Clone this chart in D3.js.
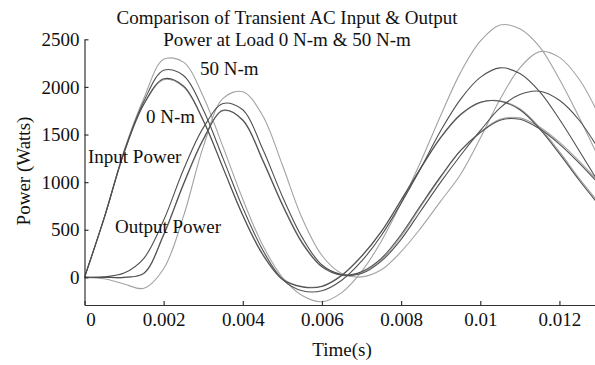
<!DOCTYPE html>
<html>
<head>
<meta charset="utf-8">
<script src="https://cdn.jsdelivr.net/npm/d3@7"></script>
<style>
  body { margin: 0; background: #fff; }
  svg { display: block; font-family: "Liberation Serif", "Times New Roman", serif; }
</style>
</head>
<body>
<svg id="chart" width="595" height="365"></svg>
<script>
// sample times (s)
const time = [0, 0.0005, 0.001, 0.0015, 0.002, 0.0025, 0.003, 0.0035, 0.004, 0.0045,
  0.005, 0.0055, 0.006, 0.0065, 0.007, 0.0075, 0.008, 0.0085, 0.009, 0.0095,
  0.01, 0.0105, 0.011, 0.0115, 0.012, 0.0125, 0.013];

// input power (W)
const inputA = [0, 630, 1330, 1880, 2290, 2260, 1900, 1370, 820, 340, 0, -190, -255, -160, 60, 380, 780, 1220, 1700, 2150, 2480, 2650, 2610, 2420, 2080, 1680, 1250];
const inputB = [0, 630, 1320, 1850, 2175, 2120, 1760, 1250, 730, 290, -20, -140, -140, -30, 170, 440, 780, 1150, 1540, 1870, 2100, 2200, 2140, 1950, 1660, 1330, 990];
const inputC = [0, 625, 1310, 1820, 2085, 2010, 1650, 1150, 650, 240, -20, -100, -95, 20, 220, 480, 810, 1150, 1470, 1710, 1840, 1850, 1760, 1560, 1300, 1020, 760];
const inputD = [0, 625, 1305, 1815, 2075, 2000, 1645, 1150, 655, 250, -10, -95, -90, 25, 225, 485, 815, 1150, 1465, 1705, 1835, 1855, 1770, 1575, 1320, 1040, 780];

// output power (W)
const outputA = [0, -15, -70, -115, 90, 640, 1370, 1880, 1950, 1700, 1180, 620, 230, 40, 5, 80, 270, 520, 800, 1080, 1460, 1870, 2200, 2370, 2310, 2080, 1700];
const outputB = [0, 5, 45, 200, 600, 1130, 1570, 1825, 1760, 1350, 850, 420, 130, 30, 40, 170, 400, 700, 1000, 1280, 1540, 1780, 1920, 1955, 1860, 1650, 1340];
const outputC = [0, 0, 0, 45, 450, 980, 1450, 1755, 1650, 1230, 760, 360, 110, 25, 60, 200, 450, 760, 1060, 1330, 1520, 1650, 1660, 1560, 1400, 1200, 980];
const outputD = [0, 0, 0, 40, 440, 970, 1440, 1750, 1655, 1240, 770, 370, 115, 20, 50, 185, 430, 745, 1050, 1330, 1525, 1660, 1675, 1580, 1420, 1220, 1000];

const xTicks = [0, 0.002, 0.004, 0.006, 0.008, 0.01, 0.012];
const yTicks = [0, 500, 1000, 1500, 2000, 2500];

const light = "#a3a3a3", dark = "#505050";
// light ones first so the dark ones sit on top
const series = [
  { values: inputD, color: light },
  { values: outputD, color: light },
  { values: inputA, color: light },
  { values: outputA, color: light },
  { values: inputB, color: dark },
  { values: inputC, color: dark },
  { values: outputB, color: dark },
  { values: outputC, color: dark }
];

const svg = d3.select("#chart");

const x = d3.scaleLinear().domain([0, 0.013]).range([84.5, 599]);
const y = d3.scaleLinear().domain([-290, 2500]).range([305, 39.3]);

svg.append("defs").append("clipPath").attr("id", "plot")
  .append("rect").attr("x", 84.5).attr("y", 0).attr("width", 520).attr("height", 305);

const line = d3.line()
  .x((d, i) => x(time[i]))
  .y(d => y(d))
  .curve(d3.curveCatmullRom.alpha(0.5));

svg.append("g")
  .attr("clip-path", "url(#plot)")
  .selectAll("path")
  .data(series)
  .join("path")
  .attr("fill", "none")
  .attr("stroke", d => d.color)
  .attr("stroke-width", 1.1)
  .attr("d", d => line(d.values));

// axes, ticks pointing inward
const xAxis = g => g
  .attr("transform", `translate(0,${y.range()[0]})`)
  .call(d3.axisBottom(x).tickValues(xTicks).tickSizeInner(-4).tickSizeOuter(0).tickPadding(8)
    .tickFormat(d => String(+d.toFixed(3))))
  .call(g => g.selectAll("text").filter(d => d === 0).attr("dx", 6));

const yAxis = g => g
  .attr("transform", `translate(${x(0)},0)`)
  .call(d3.axisLeft(y).tickValues(yTicks).tickSizeInner(-4).tickSizeOuter(0).tickPadding(5)
    .tickFormat(d => String(d)));

svg.append("g").call(xAxis);
svg.append("g").call(yAxis);

svg.selectAll("g[font-family]").attr("font-family", null).attr("font-size", null);
svg.selectAll(".tick text").attr("font-size", 19).attr("fill", "#111");
svg.selectAll(".domain, .tick line").attr("stroke", "#333").attr("stroke-width", 1.2);

// titles and labels
const txt = (s, px, py, anchor) => svg.append("text")
  .attr("x", px).attr("y", py)
  .attr("text-anchor", anchor || "start")
  .attr("font-size", 19).attr("fill", "#111")
  .text(s);

txt("Comparison of Transient AC Input & Output", 287, 24, "middle");
txt("Power at Load 0 N-m & 50 N-m", 287, 46, "middle");
txt("50 N-m", 200, 75);
txt("0 N-m", 146, 122.5);
txt("Input Power", 88, 163);
txt("Output Power", 115, 233);
txt("Time(s)", 342, 356, "middle");

svg.append("text")
  .attr("transform", "translate(30,171) rotate(-90)")
  .attr("text-anchor", "middle")
  .attr("font-size", 19).attr("fill", "#111")
  .text("Power (Watts)");
</script>
</body>
</html>
